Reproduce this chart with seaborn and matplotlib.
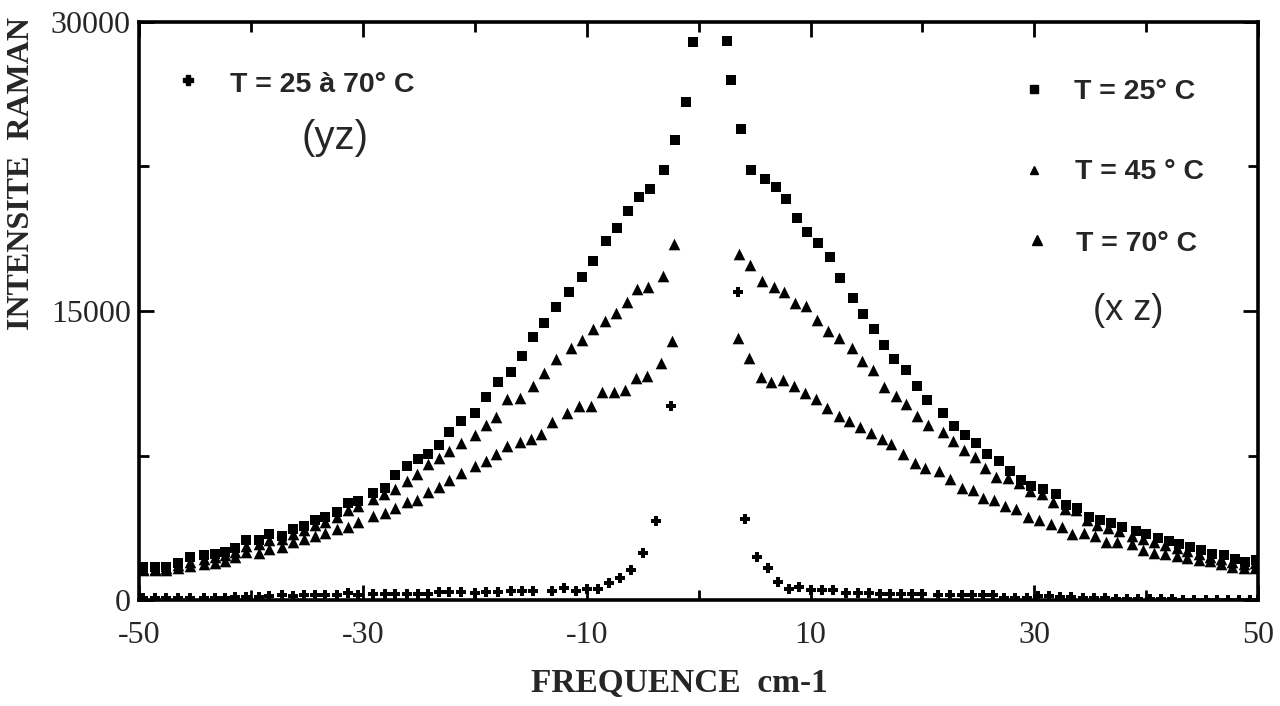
import matplotlib
matplotlib.use('Agg')
import numpy as np
import pandas as pd
import matplotlib.pyplot as plt
import seaborn as sns

# T = 25 C, (xz), squares
sq_x = [-49.6, -48.6, -47.6, -46.5, -45.4, -44.2, -43.2, -42.3, -41.4, -40.4,
        -39.3, -38.4, -37.2, -36.2, -35.3, -34.3, -33.4, -32.3, -31.3, -30.4,
        -29.1, -28.0, -27.1, -26.1, -25.1, -24.2, -23.2, -22.3, -21.2, -20.0,
        -19.0, -17.9, -16.8, -15.8, -14.8, -13.8, -12.7, -11.6, -10.4, -9.4,
        -8.3, -7.3, -6.3, -5.3, -4.3, -3.1, -2.1, -1.1, -0.5,
        2.5, 2.9, 3.8, 4.7, 5.9, 6.9, 7.8, 8.8, 9.7, 10.7,
        11.7, 12.6, 13.8, 14.7, 15.7, 16.6, 17.5, 18.5, 19.5, 20.4,
        21.8, 22.8, 23.8, 24.8, 25.8, 26.8, 27.8, 28.8, 29.7, 30.8,
        31.9, 32.8, 33.8, 34.9, 35.9, 36.8, 37.8, 39.1, 40.0, 41.0,
        42.0, 42.9, 43.9, 44.9, 45.9, 46.9, 47.9, 48.8, 49.8]
sq_y = [1720, 1730, 1740, 1950, 2220, 2320, 2410, 2470, 2690, 3130,
        3140, 3410, 3330, 3690, 3870, 4130, 4310, 4580, 5030, 5120,
        5570, 5830, 6500, 6940, 7330, 7600, 8040, 8740, 9270, 9710,
        10540, 11290, 11820, 12660, 13660, 14360, 15200, 15960, 16770, 17610,
        18610, 19330, 20190, 20920, 21350, 22310, 23880, 25860, 28960,
        28990, 26990, 24430, 22290, 21840, 21430, 20830, 19820, 19110, 18510,
        17810, 16690, 15660, 14830, 14080, 13250, 12520, 11960, 11100, 10380,
        9690, 9010, 8580, 8150, 7580, 7210, 6700, 6220, 5930, 5770,
        5480, 4920, 4800, 4320, 4160, 3990, 3790, 3570, 3410, 3240,
        3070, 2910, 2740, 2580, 2410, 2330, 2130, 2000, 2090]

# T = 45 C, triangles
t45_x = [-49.6, -48.6, -47.6, -46.5, -45.4, -44.2, -43.2, -42.3, -41.4, -40.4,
         -39.3, -38.4, -37.2, -36.2, -35.3, -34.3, -33.4, -32.3, -31.3, -30.4,
         -29.1, -28.1, -27.1, -26.1, -25.2, -24.2, -23.2, -22.3, -21.2, -20.0,
         -19.0, -18.1, -17.1, -16.0, -14.8, -13.8, -12.7, -11.4, -10.4, -9.4,
         -8.4, -7.4, -6.4, -5.5, -4.5, -3.2, -2.2,
         3.6, 4.6, 5.7, 6.7, 7.6, 8.6, 9.6, 10.6, 11.6, 12.5,
         13.7, 14.6, 15.6, 16.6, 17.6, 18.5, 19.5, 20.5, 21.8, 22.7,
         23.7, 24.7, 25.6, 26.6, 27.6, 28.6, 29.6, 30.7, 31.7, 32.7,
         33.7, 34.7, 35.6, 36.6, 37.6, 38.7, 39.7, 40.7, 41.7, 42.7,
         43.6, 44.7, 45.7, 46.7, 47.7, 48.7, 49.7]
t45_y = [1620, 1630, 1650, 1800, 2000, 2150, 2250, 2330, 2500, 2800,
         2900, 3100, 3150, 3450, 3620, 3880, 4050, 4300, 4700, 4860,
         5220, 5480, 5750, 6190, 6550, 7080, 7350, 7730, 8140, 8580,
         9110, 9510, 10430, 10490, 11090, 11790, 12490, 13080, 13520, 14080,
         14490, 14900, 15460, 16130, 16260, 16790, 18450,
         17970, 17370, 16550, 16260, 15960, 15410, 15270, 14550, 13950, 13580,
         13100, 12420, 11950, 11080, 10580, 10160, 9550, 9100, 8700, 8280,
         7800, 7400, 6850, 6400, 6350, 6100, 5670, 5510, 5080, 4740,
         4660, 4150, 3900, 3730, 3610, 3350, 3180, 3020, 2850, 2700,
         2550, 2400, 2250, 2150, 1980, 1860, 1900]

# T = 70 C, triangles
t70_x = [-49.6, -48.6, -47.6, -46.5, -45.4, -44.2, -43.2, -42.3, -41.4, -40.4,
         -39.3, -38.4, -37.2, -36.2, -35.3, -34.3, -33.4, -32.3, -31.3, -30.4,
         -29.1, -28.0, -27.1, -26.1, -25.2, -24.2, -23.2, -22.3, -21.2, -20.0,
         -19.0, -18.1, -17.1, -16.0, -15.0, -14.1, -13.1, -11.8, -10.7, -9.6,
         -8.6, -7.6, -6.6, -5.6, -4.6, -3.4, -2.4,
         3.5, 4.5, 5.6, 6.5, 7.5, 8.5, 9.5, 10.5, 11.5, 12.5,
         13.4, 14.4, 15.4, 16.4, 17.2, 18.3, 19.3, 20.2, 21.5, 22.5,
         23.5, 24.5, 25.4, 26.4, 27.4, 28.4, 29.4, 30.4, 31.5, 32.5,
         33.4, 34.4, 35.4, 36.4, 37.4, 38.7, 39.7, 40.7, 41.7, 42.7,
         43.6, 44.7, 45.7, 46.7, 47.7, 48.7, 49.7]
t70_y = [1550, 1560, 1580, 1650, 1750, 1850, 1950, 2050, 2250, 2490,
         2440, 2630, 2770, 3030, 3170, 3350, 3500, 3670, 3810, 4030,
         4350, 4530, 4800, 5070, 5210, 5600, 5870, 6220, 6620, 6940,
         7210, 7590, 8000, 8180, 8360, 8630, 9250, 9690, 10080, 10090,
         10790, 10800, 10910, 11510, 11620, 12320, 13460,
         13580, 12560, 11560, 11310, 11440, 11120, 10720, 10420, 9990, 9560,
         9280, 9000, 8650, 8350, 8090, 7580, 7120, 6850, 6690, 6280,
         5830, 5690, 5290, 5170, 4880, 4710, 4320, 4160, 3950, 3790,
         3450, 3460, 3320, 3040, 3040, 2930, 2590, 2460, 2380, 2300,
         2170, 2060, 2010, 1850, 1730, 1660, 1660]

# T = 25 a 70 C, (yz), crosses
yz_x = [-49.6, -48.6, -47.6, -46.5, -45.4, -44.2, -43.2, -42.3, -41.4, -40.4,
        -39.3, -38.4, -37.2, -36.2, -35.3, -34.3, -33.4, -32.3, -31.3, -30.4,
        -29.1, -28.0, -27.1, -26.1, -25.1, -24.2, -23.2, -22.3, -21.2, -20.0,
        -19.0, -17.9, -16.8, -15.8, -14.8, -13.1, -12.0, -11.0, -10.0, -9.0,
        -8.0, -7.0, -6.0, -5.0, -3.8, -2.5,
        3.5, 4.1, 5.2, 6.2, 7.1, 8.1, 9.0, 10.0, 11.0, 12.0,
        13.2, 14.2, 15.2, 16.2, 17.1, 18.1, 19.1, 20.0, 21.4, 22.5,
        23.5, 24.4, 25.4, 26.3, 27.3, 28.3, 29.3, 30.3, 31.3, 32.3,
        33.3, 34.3, 35.3, 36.3, 37.3, 38.3, 39.3, 40.3, 41.3, 42.3,
        43.3, 44.3, 45.3, 46.3, 47.3, 48.3, 49.3, 50.0]
yz_y = [100, 100, 110, 110, 120, 120, 130, 130, 140, 150,
        160, 220, 250, 220, 260, 260, 270, 280, 350, 280,
        300, 300, 310, 320, 330, 330, 400, 420, 420, 350,
        430, 440, 470, 470, 480, 480, 610, 460, 590, 600,
        900, 1130, 1580, 2450, 4110, 10060,
        15970, 4220, 2260, 1670, 950, 560, 660, 510, 520, 530,
        360, 380, 360, 340, 340, 300, 300, 310, 250, 250,
        240, 240, 250, 270, 130, 130, 120, 210, 190, 180,
        150, 130, 120, 100, 80, 60, 50, 50, 40, 40,
        30, 30, 30, 20, 20, 20, 20, 20]

sq = pd.DataFrame({'freq': sq_x, 'intensite': sq_y})
t45 = pd.DataFrame({'freq': t45_x, 'intensite': t45_y})
t70 = pd.DataFrame({'freq': t70_x, 'intensite': t70_y})
yz = pd.DataFrame({'freq': yz_x, 'intensite': yz_y})

sns.set_style('ticks')
plt.rcParams['axes.unicode_minus'] = False
serif = ['Liberation Serif', 'DejaVu Serif']
sans = ['Liberation Sans', 'DejaVu Sans']

fig, ax = plt.subplots(figsize=(12.8, 7.06), dpi=100)
fig.subplots_adjust(left=0.1086, right=0.983, bottom=0.150, top=0.969)

sns.scatterplot(data=sq, x='freq', y='intensite', marker='s', s=60,
                color='black', linewidth=0, ax=ax)
sns.scatterplot(data=t45, x='freq', y='intensite', marker='^', s=70,
                color='black', linewidth=0, ax=ax)
sns.scatterplot(data=t70, x='freq', y='intensite', marker='^', s=70,
                color='black', linewidth=0, ax=ax)
sns.scatterplot(data=yz, x='freq', y='intensite', marker='P', s=46,
                color='black', linewidth=0, ax=ax)

ax.set_xlim(-50, 50)
ax.set_ylim(0, 30000)
ax.set_xticks([-50, -30, -10, 10, 30, 50])
ax.set_xticks([-40, -20, 0, 20, 40], minor=True)
ax.set_yticks([0, 15000, 30000])
ax.set_yticks([7500, 22500], minor=True)
ax.tick_params(which='both', direction='in', top=True, right=True,
               width=2, color='black')
ax.tick_params(which='major', length=11)
ax.tick_params(which='minor', length=7)
ax.tick_params(axis='x', pad=15)
ax.tick_params(axis='y', pad=6)
for lab in ax.get_xticklabels() + ax.get_yticklabels():
    lab.set_family(serif)
    lab.set_fontsize(23)
for sp in ax.spines.values():
    sp.set_linewidth(2.6)
    sp.set_color('black')
ax.set_xlabel('')
ax.set_ylabel('')

fig.text(0.017, 0.754, 'INTENSITE  RAMAN', rotation=90, ha='center', va='center',
         family=serif, fontweight='bold', fontsize=23)
fig.text(0.531, 0.032, 'FREQUENCE  cm-1', ha='center', va='center',
         family=serif, fontweight='bold', fontsize=24)

# annotations inside the frame
ax.plot([0.044], [0.90], marker='P', ms=7, color='black', ls='none',
        transform=ax.transAxes)
ax.text(0.081, 0.891, 'T = 25 à 70° C', transform=ax.transAxes, ha='left',
        va='center', family=sans, fontweight='bold', fontsize=20.5)
ax.text(0.175, 0.80, '(yz)', transform=ax.transAxes, ha='center',
        va='center', family=sans, fontsize=29)

ax.plot([0.80], [0.884], marker='s', ms=6, color='black', ls='none',
        transform=ax.transAxes)
ax.text(0.835, 0.879, 'T = 25° C', transform=ax.transAxes, ha='left',
        va='center', family=sans, fontweight='bold', fontsize=20.5)
ax.plot([0.80], [0.744], marker='^', ms=6, color='black', ls='none',
        transform=ax.transAxes)
ax.text(0.836, 0.740, 'T = 45 ° C', transform=ax.transAxes, ha='left',
        va='center', family=sans, fontweight='bold', fontsize=20.5)
ax.plot([0.802], [0.623], marker='^', ms=7, color='black', ls='none',
        transform=ax.transAxes)
ax.text(0.837, 0.616, 'T = 70° C', transform=ax.transAxes, ha='left',
        va='center', family=sans, fontweight='bold', fontsize=20.5)
ax.text(0.884, 0.50, '(x z)', transform=ax.transAxes, ha='center',
        va='center', family=sans, fontsize=26)

fig.savefig('out.png', dpi=100, facecolor='white')
